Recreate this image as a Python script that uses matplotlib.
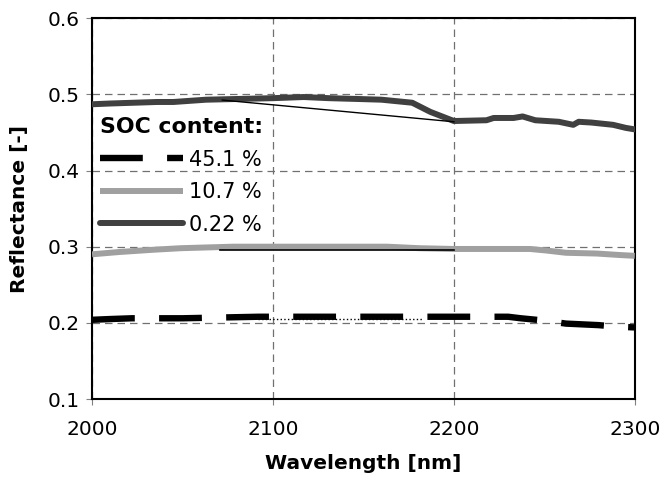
import matplotlib
matplotlib.use("Agg")
import matplotlib.pyplot as plt

# wavelength [nm] and reflectance [-]
wl_451 = [2000, 2010, 2022, 2050, 2092, 2120, 2157, 2197, 2230, 2237, 2250, 2262, 2280, 2290, 2300]
r_451 = [0.204, 0.205, 0.206, 0.206, 0.208, 0.208, 0.208, 0.208, 0.208, 0.206, 0.203, 0.199, 0.197, 0.195, 0.194]

wl_107 = [2000, 2015, 2034, 2049, 2078, 2099, 2163, 2181, 2200, 2242, 2251, 2262, 2279, 2292, 2300]
r_107 = [0.290, 0.293, 0.296, 0.298, 0.300, 0.300, 0.300, 0.298, 0.297, 0.297, 0.295, 0.292, 0.291, 0.289, 0.288]

wl_022 = [2000, 2010, 2036, 2045, 2063, 2100, 2117, 2131, 2146, 2160, 2177, 2187, 2200,
          2218, 2222, 2233, 2238, 2245, 2258, 2266, 2269, 2276, 2288, 2295, 2300]
r_022 = [0.487, 0.488, 0.490, 0.490, 0.493, 0.495, 0.4965, 0.495, 0.494, 0.493, 0.489, 0.477, 0.465,
         0.466, 0.469, 0.469, 0.471, 0.466, 0.464, 0.460, 0.464, 0.463, 0.460, 0.456, 0.454]

# stray thin lines visible in the original chart
stray1_wl = [2072, 2200]
stray1_r = [0.4925, 0.464]
stray2_wl = [2071, 2200]
stray2_r = [0.295, 0.295]
stray3_wl = [2092, 2183]
stray3_r = [0.205, 0.205]

plt.rcParams['font.family'] = ['DejaVu Sans']
fig = plt.figure(figsize=(6.64, 4.79), dpi=100)
ax = fig.add_axes([0.1386, 0.167, 0.8174, 0.795])

ax.plot(wl_451, r_451, color='black', lw=4.6, linestyle=(0, (6.7, 3.8)),
        dash_capstyle='butt', label='45.1 %', zorder=3)
ax.plot(wl_107, r_107, color='#a0a0a0', lw=4.3, solid_capstyle='butt',
        label='10.7 %', zorder=3)
ax.plot(wl_022, r_022, color='#404040', lw=4.3, solid_capstyle='round',
        label='0.22 %', zorder=3)

ax.plot(stray1_wl, stray1_r, color='black', lw=1.0, zorder=4)
ax.plot(stray2_wl, stray2_r, color='black', lw=1.2, zorder=4)
ax.plot(stray3_wl, stray3_r, color='black', lw=1.0, linestyle=':', zorder=4)

ax.set_xlim(2000, 2300)
ax.set_ylim(0.1, 0.6)
ax.set_xticks([2000, 2100, 2200, 2300])
ax.set_yticks([0.1, 0.2, 0.3, 0.4, 0.5, 0.6])
ax.set_yticklabels(['0.1', '0.2', '0.3', '0.4', '0.5', '0.6'])
ax.tick_params(labelsize=14.5, direction='out', length=4, color='#808080')
ax.tick_params(axis='x', pad=11)
ax.tick_params(axis='y', pad=5)

ax.grid(True, color='#707070', linestyle=(0, (6, 4)), lw=0.9)
ax.set_axisbelow(True)
for s in ax.spines.values():
    s.set_linewidth(1.5)
    s.set_color('black')

ax.set_xlabel('Wavelength [nm]', fontsize=14.5, fontweight='bold')
ax.set_ylabel('Reflectance [-]', fontsize=14.5, fontweight='bold')
ax.xaxis.set_label_coords(0.5, -0.144)
ax.yaxis.set_label_coords(-0.116, 0.5)

leg = ax.legend(loc='upper left', bbox_to_anchor=(0.0147, 0.74), frameon=False,
                fontsize=15, handlelength=4.0, handletextpad=0.25, labelspacing=0.6,
                borderaxespad=0.0, borderpad=0.0, title='SOC content:', alignment='left',
                title_fontproperties={'weight': 'bold', 'size': 15.8})

fig.savefig('out.png', dpi=100)
